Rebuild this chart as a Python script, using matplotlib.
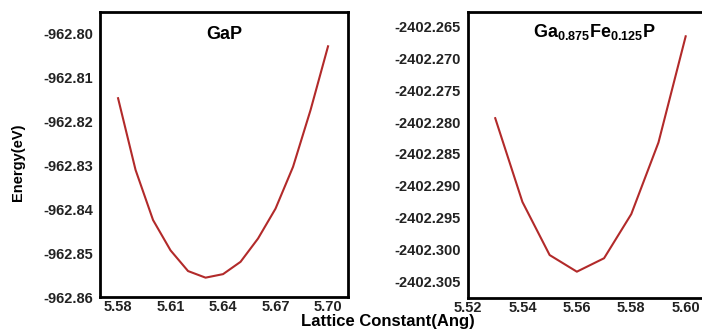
import matplotlib
matplotlib.use("Agg")
import matplotlib.pyplot as plt
import numpy as np

plt.rcParams['font.family'] = ['Liberation Sans', 'DejaVu Sans']
plt.rcParams['mathtext.fontset'] = 'custom'
plt.rcParams['mathtext.bf'] = 'Liberation Sans:bold'
plt.rcParams['mathtext.rm'] = 'Liberation Sans'

# GaP
gap_a = [5.58, 5.59, 5.60, 5.61, 5.62, 5.63, 5.64, 5.65, 5.66, 5.67, 5.68, 5.69, 5.70]
gap_e = [-962.8148, -962.8311, -962.8425, -962.8494, -962.8541, -962.8556, -962.8548,
         -962.8520, -962.8467, -962.8399, -962.8304, -962.8175, -962.8030]
gap_xticks = [5.58, 5.61, 5.64, 5.67, 5.70]
gap_yticks = [-962.86, -962.85, -962.84, -962.83, -962.82, -962.81, -962.80]

# Ga0.875Fe0.125P
fe_a = [5.53, 5.54, 5.55, 5.56, 5.57, 5.58, 5.59, 5.60]
fe_e = [-2402.2794, -2402.2925, -2402.3008, -2402.3034, -2402.3013, -2402.2944,
        -2402.2832, -2402.2666]
fe_xticks = [5.52, 5.54, 5.56, 5.58, 5.60]
fe_yticks = [-2402.305, -2402.300, -2402.295, -2402.290, -2402.285, -2402.280,
             -2402.275, -2402.270, -2402.265]

line_color = '#b22a2a'

fig = plt.figure(figsize=(7.02, 3.31), dpi=100)
ax1 = fig.add_axes([0.1425, 0.1027, 0.3532, 0.861])
ax2 = fig.add_axes([0.6667, 0.1, 0.3333, 0.8637])

ax1.plot(gap_a, gap_e, color=line_color, lw=1.5)
ax1.set_xlim(5.5697, 5.7114)
ax1.set_ylim(-962.86, -962.7952)
ax1.set_xticks(gap_xticks, ['%.2f' % v for v in gap_xticks])
ax1.set_yticks(gap_yticks, ['%.2f' % v for v in gap_yticks])
ax1.text(0.5, 0.92, 'GaP', transform=ax1.transAxes, ha='center', va='center',
         fontsize=13, fontweight='bold')

ax2.plot(fe_a, fe_e, color=line_color, lw=1.5)
ax2.set_xlim(5.52, 5.606)
ax2.set_ylim(-2402.3075, -2402.2628)
ax2.set_xticks(fe_xticks, ['%.2f' % v for v in fe_xticks])
ax2.set_yticks(fe_yticks, ['%.3f' % v for v in fe_yticks])
ax2.text(0.54, 0.93, r'$\mathbf{Ga_{0.875}Fe_{0.125}P}$', transform=ax2.transAxes,
         ha='center', va='center', fontsize=13)
ax2.spines['right'].set_visible(False)

for ax in (ax1, ax2):
    for s in ax.spines.values():
        s.set_linewidth(2)
    ax.tick_params(length=0, labelsize=10.5)
    ax.tick_params(axis='y', pad=5)
    ax.tick_params(axis='x', pad=2)
    for lab in ax.get_xticklabels() + ax.get_yticklabels():
        lab.set_fontweight('bold')
        lab.set_color('#222222')

fig.text(0.553, 0.016, 'Lattice Constant(Ang)', ha='center', va='baseline',
         fontsize=12, fontweight='bold')
fig.text(0.026, 0.51, 'Energy(eV)', ha='center', va='center', rotation=90,
         fontsize=10.5, fontweight='bold')

fig.savefig('out.png', dpi=100)
